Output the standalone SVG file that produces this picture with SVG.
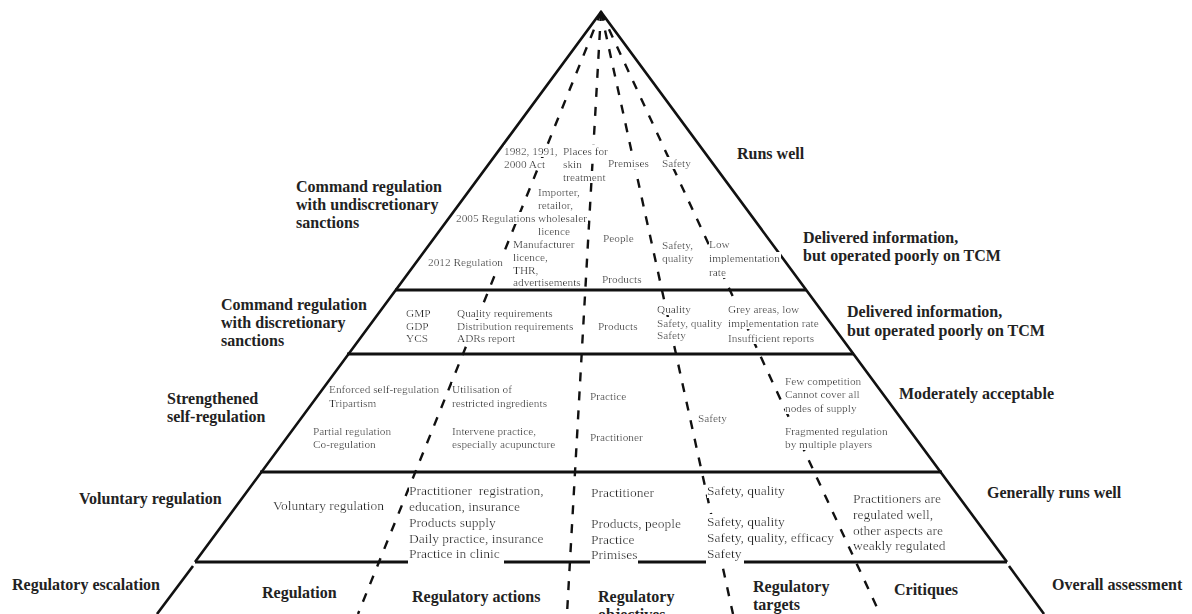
<svg xmlns="http://www.w3.org/2000/svg" width="1192" height="614" viewBox="0 0 1192 614">
<style>
.edge{stroke:#111;stroke-width:2.6;fill:none;stroke-linecap:butt}
.band{stroke:#111;stroke-width:2.8;fill:none}
.dash{stroke:#111;stroke-width:2.4;fill:none;stroke-dasharray:9 10}
.s{font-family:"Liberation Serif","Times New Roman",serif;font-size:11.3px;fill:#262626;filter:url(#bgw)}
.m{font-family:"Liberation Serif","Times New Roman",serif;font-size:13.5px;fill:#262626;filter:url(#bgw)}
.b{font-family:"Liberation Serif","Times New Roman",serif;font-size:16px;font-weight:bold;fill:#222}
.bg{fill:#fff}
</style>
<defs>
  <filter id="bgw" x="0" y="0" width="1" height="1">
    <feFlood flood-color="#ffffff"/>
    <feComposite in="SourceGraphic"/>
  </filter>
</defs>
<rect width="1192" height="614" fill="#fff"/>
<g id="connectors">
  <line class="dash" x1="601" y1="12" x2="358" y2="614"/>
  <line class="dash" x1="601" y1="12" x2="567" y2="614"/>
  <line class="dash" x1="601" y1="12" x2="733" y2="614"/>
  <line class="dash" x1="601" y1="12" x2="880" y2="614"/>
  <polyline class="edge" points="195,562 601,12 1007,562"/>
  <line class="edge" x1="193" y1="566" x2="157" y2="614"/>
  <line class="edge" x1="1009" y1="566" x2="1044" y2="614"/>
  <line class="band" x1="395" y1="290" x2="806" y2="290"/>
  <line class="band" x1="347" y1="354" x2="854" y2="354"/>
  <line class="band" x1="260" y1="472" x2="942" y2="472"/>
  <line class="band" x1="195" y1="562" x2="1007" y2="562"/>
</g>
<g id="band1">
  <text class="s" x="504" y="155">1982, 1991,</text>
  <text class="s" x="504" y="168">2000 Act</text>
  <text class="s" x="563" y="155">Places for</text>
  <text class="s" x="563" y="168">skin</text>
  <text class="s" x="563" y="181">treatment</text>
  <text class="s" x="608" y="167">Premises</text>
  <text class="s" x="662" y="167">Safety</text>
  <text class="s" x="538" y="196">Importer,</text>
  <text class="s" x="538" y="209">retailor,</text>
  <text class="s" x="538" y="222">wholesaler</text>
  <text class="s" x="538" y="235">licence</text>
  <text class="s" x="456" y="222">2005 Regulations</text>
  <text class="s" x="513" y="248">Manufacturer</text>
  <text class="s" x="513" y="261">licence,</text>
  <text class="s" x="513" y="274">THR,</text>
  <text class="s" x="513" y="286">advertisements</text>
  <text class="s" x="428" y="266">2012 Regulation</text>
  <text class="s" x="603" y="242">People</text>
  <text class="s" x="602" y="283">Products</text>
  <text class="s" x="662" y="249">Safety,</text>
  <text class="s" x="662" y="262">quality</text>
  <text class="s" x="709" y="248">Low</text>
  <text class="s" x="709" y="262">implementation</text>
  <text class="s" x="709" y="276">rate</text>
</g>
<g id="band2">
  <text class="s" x="406" y="317">GMP</text>
  <text class="s" x="406" y="330">GDP</text>
  <text class="s" x="406" y="342">YCS</text>
  <text class="s" x="457" y="317">Quality requirements</text>
  <text class="s" x="457" y="330">Distribution requirements</text>
  <text class="s" x="457" y="342">ADRs report</text>
  <text class="s" x="598" y="330">Products</text>
  <text class="s" x="657" y="313">Quality</text>
  <text class="s" x="657" y="327">Safety, quality</text>
  <text class="s" x="657" y="339">Safety</text>
  <text class="s" x="728" y="313">Grey areas, low</text>
  <text class="s" x="728" y="327">implementation rate</text>
  <text class="s" x="728" y="342">Insufficient reports</text>
</g>
<g id="band3">
  <text class="s" x="329" y="393">Enforced self-regulation</text>
  <text class="s" x="329" y="407">Tripartism</text>
  <text class="s" x="313" y="435">Partial regulation</text>
  <text class="s" x="313" y="448">Co-regulation</text>
  <text class="s" x="452" y="393">Utilisation of</text>
  <text class="s" x="452" y="407">restricted ingredients</text>
  <text class="s" x="452" y="435">Intervene practice,</text>
  <text class="s" x="452" y="448">especially acupuncture</text>
  <text class="s" x="590" y="400">Practice</text>
  <text class="s" x="590" y="441">Practitioner</text>
  <text class="s" x="698" y="422">Safety</text>
  <text class="s" x="785" y="385">Few competition</text>
  <text class="s" x="785" y="398">Cannot cover all</text>
  <text class="s" x="785" y="412">nodes of supply</text>
  <text class="s" x="785" y="435">Fragmented regulation</text>
  <text class="s" x="785" y="448">by multiple players</text>
</g>
<g id="band4">
  <rect class="bg" x="408" y="548" width="96" height="16"/>
  <rect class="bg" x="590" y="548" width="48" height="16"/>
  <rect class="bg" x="706" y="547" width="38" height="17"/>
  <text class="m" x="273" y="510">Voluntary regulation</text>
  <text class="m" x="409" y="495" xml:space="preserve">Practitioner  registration,</text>
  <text class="m" x="409" y="511">education, insurance</text>
  <text class="m" x="409" y="527">Products supply</text>
  <text class="m" x="409" y="543">Daily practice, insurance</text>
  <text class="m" x="409" y="558">Practice in clinic</text>
  <text class="m" x="591" y="497">Practitioner</text>
  <text class="m" x="591" y="528">Products, people</text>
  <text class="m" x="591" y="544">Practice</text>
  <text class="m" x="591" y="559">Primises</text>
  <text class="m" x="707" y="495">Safety, quality</text>
  <text class="m" x="707" y="526">Safety, quality</text>
  <text class="m" x="707" y="542">Safety, quality, efficacy</text>
  <text class="m" x="707" y="558">Safety</text>
  <text class="m" x="853" y="503">Practitioners are</text>
  <text class="m" x="853" y="519">regulated well,</text>
  <text class="m" x="853" y="535">other aspects are</text>
  <text class="m" x="853" y="550">weakly regulated</text>
</g>
<g id="left-labels">
  <text class="b" x="296" y="192">Command regulation</text>
  <text class="b" x="296" y="210">with undiscretionary</text>
  <text class="b" x="296" y="228">sanctions</text>
  <text class="b" x="221" y="310">Command regulation</text>
  <text class="b" x="221" y="328">with discretionary</text>
  <text class="b" x="221" y="346">sanctions</text>
  <text class="b" x="167" y="404">Strengthened</text>
  <text class="b" x="167" y="422">self-regulation</text>
  <text class="b" x="79" y="504">Voluntary regulation</text>
  <text class="b" x="12" y="590">Regulatory escalation</text>
</g>
<g id="right-labels">
  <text class="b" x="737" y="159">Runs well</text>
  <text class="b" x="803" y="243">Delivered information,</text>
  <text class="b" x="803" y="261">but operated poorly on TCM</text>
  <text class="b" x="847" y="317">Delivered information,</text>
  <text class="b" x="847" y="336">but operated poorly on TCM</text>
  <text class="b" x="899" y="399">Moderately acceptable</text>
  <text class="b" x="987" y="498">Generally runs well</text>
  <text class="b" x="1052" y="590">Overall assessment</text>
</g>
<g id="bottom-labels">
  <text class="b" x="262" y="598">Regulation</text>
  <text class="b" x="412" y="602">Regulatory actions</text>
  <text class="b" x="598" y="602">Regulatory</text>
  <text class="b" x="598" y="620">objectives</text>
  <text class="b" x="753" y="592">Regulatory</text>
  <text class="b" x="753" y="610">targets</text>
  <text class="b" x="894" y="595">Critiques</text>
</g>
</svg>
